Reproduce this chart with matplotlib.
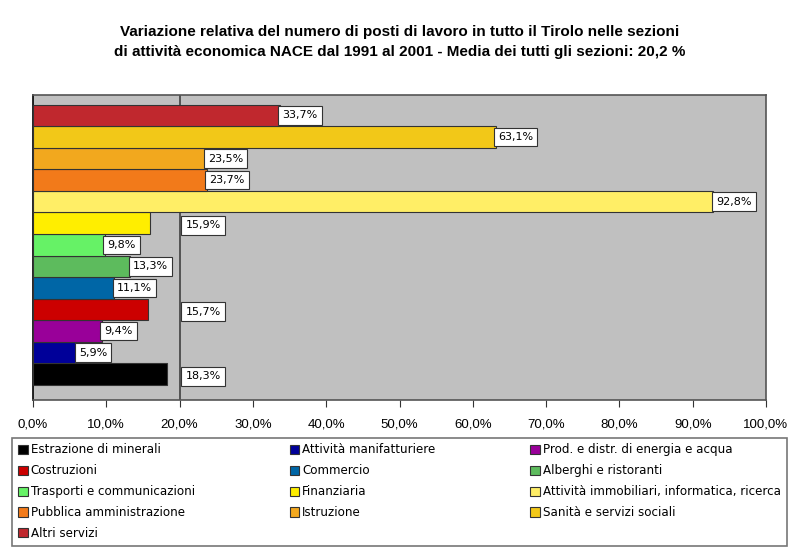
import matplotlib
matplotlib.use('Agg')
import matplotlib.pyplot as plt
from matplotlib.patches import Patch
from matplotlib.ticker import FuncFormatter

# --- dati (dal basso verso l'alto) ---
sezioni = [
    'Estrazione di minerali', 'Attività manifatturiere', 'Prod. e distr. di energia e acqua',
    'Costruzioni', 'Commercio', 'Alberghi e ristoranti',
    'Trasporti e communicazioni', 'Finanziaria', 'Attività immobiliari, informatica, ricerca',
    'Pubblica amministrazione', 'Istruzione', 'Sanità e servizi sociali',
    'Altri servizi',
]
variazione = [18.3, 5.9, 9.4, 15.7, 11.1, 13.3, 9.8, 15.9, 92.8, 23.7, 23.5, 63.1, 33.7]
colori = ['#000000', '#000099', '#990099', '#CC0000', '#0066A6', '#5DBB5D',
          '#66F266', '#FFEE00', '#FFEE66', '#F27A1A', '#F2A81E', '#F2C818', '#C0282E']
media = 20.2
# etichette spostate a destra della linea della media (come in Excel)
spostate = ['Estrazione di minerali', 'Costruzioni', 'Finanziaria']

titolo = ('Variazione relativa del numero di posti di lavoro in tutto il Tirolo nelle sezioni\n'
          'di attività economica NACE dal 1991 al 2001 - Media dei tutti gli sezioni: 20,2 %')

fig = plt.figure(figsize=(8, 5.54), dpi=100)
ax = fig.add_axes([33 / 800, 1 - 400 / 554, 733 / 800, 305 / 554])
ax.set_facecolor('#C0C0C0')

pos = list(range(len(sezioni)))
ax.barh(pos, variazione, height=1.0, color=colori, edgecolor='#333333', linewidth=0.8, zorder=3)
ax.axvline(20, color='#404040', linewidth=1.2, zorder=2)

for i, (nome, v) in enumerate(zip(sezioni, variazione)):
    x = 20.8 if nome in spostate else v + 0.35
    dy = -0.1 if nome in spostate else 0
    ax.text(x, i + dy, f'{v:.1f}%'.replace('.', ','), ha='left', va='center',
            fontsize=8, family='DejaVu Sans', zorder=5,
            bbox=dict(boxstyle='square,pad=0.38', fc='white', ec='#333333', lw=0.8))

ax.set_xlim(0, 100)
ax.set_ylim(-1.2, 12.95)
ax.set_xticks(range(0, 101, 10))
ax.xaxis.set_major_formatter(FuncFormatter(lambda v, p: f'{v:.1f}%'.replace('.', ',')))
ax.set_yticks([])
ax.tick_params(axis='x', direction='out', length=5, color='#333333', pad=8, labelsize=9.5)
for lab in ax.get_xticklabels():
    lab.set_family('Liberation Sans')
for s in ax.spines.values():
    s.set_color('#555555')
    s.set_linewidth(1.2)
ax.spines['left'].set_color('#000000')

fig.text(0.5, 1 - 42 / 554, titolo, ha='center', va='center', fontsize=11.0,
         fontweight='bold', family='Liberation Sans', linespacing=1.5)

# legenda: ordine per righe, 3 colonne
handles = [Patch(facecolor=c, edgecolor='#333333', linewidth=0.8) for c in colori]
ordine = [0, 3, 6, 9, 12, 1, 4, 7, 10, 2, 5, 8, 11]
leg = fig.legend([handles[k] for k in ordine], [sezioni[k] for k in ordine],
                 ncol=3, mode='expand', loc='lower left',
                 bbox_to_anchor=(12 / 800, 1 - 546 / 554, 775 / 800, 108 / 554),
                 prop={'family': 'DejaVu Sans', 'size': 8.6},
                 handlelength=0.8, handleheight=0.8, handletextpad=0.25,
                 labelspacing=0.66, borderpad=0.5, borderaxespad=0,
                 fancybox=False, frameon=True)
leg.get_frame().set_edgecolor('#555555')
leg.get_frame().set_linewidth(1.2)

fig.savefig('out.png', dpi=100)
